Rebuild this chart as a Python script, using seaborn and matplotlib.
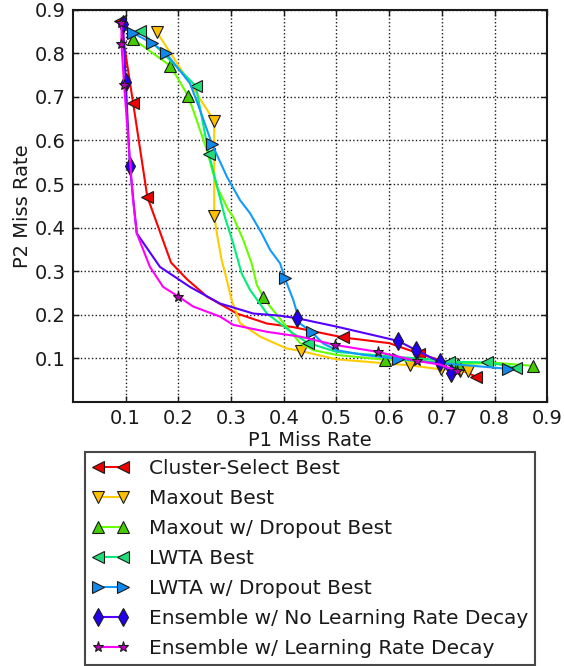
import matplotlib
matplotlib.use("Agg")
import matplotlib.pyplot as plt
from matplotlib.lines import Line2D
import seaborn as sns
import pandas as pd

# ---------------- data ----------------
series_names = [
    "Cluster-Select Best",
    "Maxout Best",
    "Maxout w/ Dropout Best",
    "LWTA Best",
    "LWTA w/ Dropout Best",
    "Ensemble w/ No Learning Rate Decay",
    "Ensemble w/ Learning Rate Decay",
]

cluster_x = [0.090, 0.114, 0.141, 0.186, 0.216, 0.254, 0.311, 0.368, 0.417, 0.513, 0.600, 0.657, 0.696, 0.765]
cluster_y = [0.875, 0.687, 0.471, 0.320, 0.282, 0.242, 0.203, 0.180, 0.172, 0.148, 0.135, 0.111, 0.096, 0.058]
cluster_mk = [0, 1, 2, 9, 11, 13]

maxout_x = [0.159, 0.268, 0.268, 0.274, 0.282, 0.292, 0.301, 0.317, 0.355, 0.405, 0.432, 0.500, 0.600, 0.640, 0.698, 0.734, 0.749]
maxout_y = [0.849, 0.645, 0.427, 0.380, 0.326, 0.280, 0.234, 0.181, 0.150, 0.123, 0.117, 0.098, 0.088, 0.084, 0.075, 0.071, 0.070]
maxout_mk = [0, 1, 2, 10, 13, 14, 15, 16]

maxdrop_x = [0.114, 0.185, 0.218, 0.228, 0.254, 0.273, 0.295, 0.304, 0.323, 0.339, 0.349, 0.361, 0.374, 0.405, 0.431, 0.456, 0.500, 0.592, 0.700, 0.731, 0.800, 0.873]
maxdrop_y = [0.833, 0.771, 0.703, 0.670, 0.578, 0.494, 0.440, 0.425, 0.372, 0.318, 0.268, 0.241, 0.219, 0.173, 0.135, 0.119, 0.108, 0.097, 0.092, 0.087, 0.090, 0.083]
maxdrop_mk = [0, 1, 2, 11, 17, 19, 21]

lwta_x = [0.128, 0.233, 0.258, 0.288, 0.304, 0.320, 0.336, 0.368, 0.418, 0.445, 0.500, 0.600, 0.696, 0.714, 0.786, 0.841]
lwta_y = [0.852, 0.725, 0.568, 0.425, 0.364, 0.295, 0.257, 0.203, 0.157, 0.136, 0.115, 0.105, 0.096, 0.092, 0.091, 0.079]
lwta_mk = [0, 1, 2, 9, 13, 14, 15]

lwtadrop_x = [0.113, 0.149, 0.176, 0.222, 0.241, 0.264, 0.292, 0.317, 0.336, 0.358, 0.374, 0.393, 0.402, 0.418, 0.431, 0.453, 0.475, 0.500, 0.551, 0.617, 0.696, 0.779, 0.826]
lwtadrop_y = [0.847, 0.824, 0.801, 0.731, 0.670, 0.591, 0.517, 0.463, 0.433, 0.387, 0.349, 0.318, 0.284, 0.234, 0.180, 0.160, 0.134, 0.119, 0.108, 0.099, 0.089, 0.081, 0.076]
lwtadrop_mk = [0, 1, 2, 5, 12, 15, 19, 22]

ensno_x = [0.095, 0.100, 0.108, 0.121, 0.165, 0.222, 0.279, 0.342, 0.393, 0.426, 0.500, 0.582, 0.617, 0.651, 0.696, 0.717]
ensno_y = [0.868, 0.735, 0.541, 0.387, 0.310, 0.264, 0.226, 0.203, 0.198, 0.192, 0.173, 0.150, 0.140, 0.119, 0.092, 0.066]
ensno_mk = [0, 1, 2, 9, 12, 13, 14, 15]

enslr_x = [0.092, 0.092, 0.097, 0.114, 0.121, 0.146, 0.171, 0.200, 0.228, 0.279, 0.304, 0.368, 0.431, 0.497, 0.578, 0.653, 0.696, 0.728]
enslr_y = [0.870, 0.821, 0.727, 0.463, 0.387, 0.310, 0.264, 0.242, 0.219, 0.196, 0.177, 0.161, 0.150, 0.131, 0.115, 0.094, 0.086, 0.072]
enslr_mk = [0, 1, 2, 7, 13, 14, 15, 17]

tick_values = [0.1, 0.2, 0.3, 0.4, 0.5, 0.6, 0.7, 0.8, 0.9]
tick_labels = ["0.1", "0.2", "0.3", "0.4", "0.5", "0.6", "0.7", "0.8", "0.9"]

# ---------------- styles ----------------
styles = [
    dict(color="#FF0000", mfc="#EE0000", marker="<", ms=9),
    dict(color="#FFCC00", mfc="#FFC000", marker="v", ms=9),
    dict(color="#66FF00", mfc="#44CC00", marker="^", ms=9),
    dict(color="#00EE77", mfc="#22DD77", marker="<", ms=9),
    dict(color="#1199FF", mfc="#1188EE", marker=">", ms=9),
    dict(color="#5500FF", mfc="#2200EE", marker="d", ms=9),
    dict(color="#FF00FF", mfc="#BB00BB", marker="*", ms=8),
]

data = [
    (cluster_x, cluster_y, cluster_mk),
    (maxout_x, maxout_y, maxout_mk),
    (maxdrop_x, maxdrop_y, maxdrop_mk),
    (lwta_x, lwta_y, lwta_mk),
    (lwtadrop_x, lwtadrop_y, lwtadrop_mk),
    (ensno_x, ensno_y, ensno_mk),
    (enslr_x, enslr_y, enslr_mk),
]

sns.set_theme(style="white")
plt.rcParams["font.family"] = ["DejaVu Sans"]

fig = plt.figure(figsize=(5.64, 6.66), dpi=100)
ax = fig.add_axes([0.1294, 0.3964, 0.8410, 0.5890])

handles = []
for name, (xs, ys, mk), st in zip(series_names, data, styles):
    df = pd.DataFrame({"x": xs, "y": ys})
    sns.lineplot(data=df, x="x", y="y", ax=ax, sort=False, estimator=None,
                 color=st["color"], linewidth=1.5, marker=st["marker"],
                 markevery=mk, markersize=st["ms"], markerfacecolor=st["mfc"],
                 markeredgecolor="k", markeredgewidth=0.8, zorder=3)
    handles.append(Line2D([], [], color=st["color"], linewidth=1.5, marker=st["marker"],
                          markersize=st["ms"], markerfacecolor=st["mfc"],
                          markeredgecolor="k", markeredgewidth=0.8, label=name))

ax.set_xlim(0, 0.9)
ax.set_ylim(0, 0.9)
ax.set_xticks(tick_values)
ax.set_xticklabels(tick_labels)
ax.set_yticks(tick_values)
ax.set_yticklabels(tick_labels)
ax.grid(True, linestyle=":", color="k", linewidth=1.0, zorder=0)
ax.set_axisbelow(True)
ax.tick_params(axis="both", direction="in", length=4, width=1, labelsize=14,
               top=True, right=True, bottom=True, left=True, pad=5, colors="k")
for sp in ax.spines.values():
    sp.set_linewidth(1.5)
    sp.set_color("k")
ax.set_xlabel("P1 Miss Rate", fontsize=14, labelpad=2, color="k")
ax.set_ylabel("P2 Miss Rate", fontsize=14, labelpad=2, color="k")

leg = fig.legend(handles=handles, loc="upper center", bbox_to_anchor=(0.5496, 0.3218),
                 fontsize=14.5, numpoints=2, handlelength=1.85, handletextpad=0.95,
                 labelspacing=0.55, borderpad=0.35, borderaxespad=0.0,
                 fancybox=False, frameon=True)
leg.get_frame().set_edgecolor("k")
leg.get_frame().set_linewidth(1.5)
for t in leg.get_texts():
    t.set_color("k")

fig.savefig("out.png", dpi=100)
